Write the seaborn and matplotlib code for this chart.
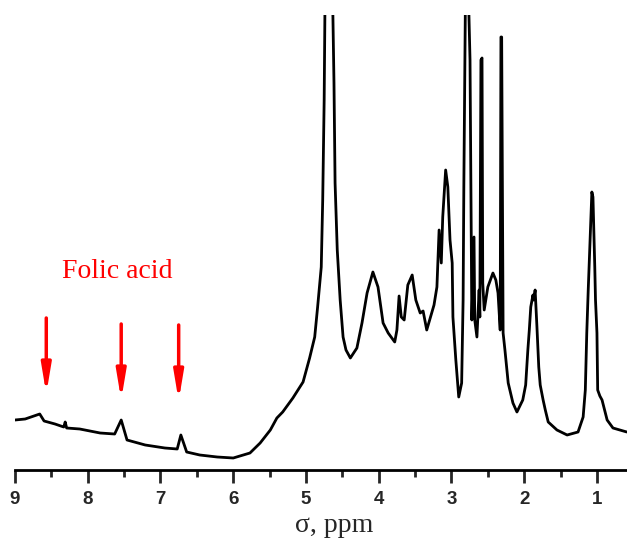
import numpy as np
import matplotlib
matplotlib.use("Agg")
import matplotlib.pyplot as plt
import seaborn as sns

# Chemical shift (ppm) and signal intensity (arb. units)
ppm = [9.00, 8.86, 8.66, 8.60, 8.45, 8.33, 8.31, 8.29, 8.11, 7.83, 7.63, 7.54, 7.46,
       7.21, 6.94, 6.77, 6.72, 6.64, 6.46, 6.22, 6.00, 5.77, 5.63, 5.49, 5.40, 5.32,
       5.18, 5.04, 4.95, 4.88, 4.84, 4.79, 4.77, 4.75, 4.74, 4.69, 4.63, 4.615, 4.60,
       4.57, 4.53, 4.49, 4.45, 4.39, 4.30, 4.23, 4.16, 4.08, 4.01, 3.94, 3.87, 3.78, 3.75,
       3.72, 3.69, 3.65, 3.60, 3.54, 3.49, 3.43, 3.39, 3.34, 3.28, 3.24, 3.20, 3.17,
       3.14, 3.12, 3.08, 3.05, 3.02, 2.99, 2.98, 2.94, 2.90, 2.86, 2.84, 2.83, 2.81,
       2.787, 2.76, 2.745, 2.73, 2.72, 2.69, 2.68, 2.65, 2.62, 2.61, 2.595, 2.58,
       2.57, 2.55, 2.50, 2.43, 2.39, 2.36, 2.33, 2.32, 2.31, 2.29, 2.265, 2.22,
       2.155, 2.10, 2.02, 1.98, 1.95, 1.93, 1.91, 1.88, 1.87, 1.85, 1.825, 1.80,
       1.78, 1.74, 1.71, 1.67, 1.55, 1.41, 1.26, 1.19, 1.16, 1.14, 1.12, 1.10, 1.07,
       1.055, 1.03, 1.02, 1.00, 0.99, 0.96, 0.93, 0.86, 0.78, 0.59]
intensity = [49, 50, 55, 48, 45, 42, 47, 41, 40, 36, 35, 49, 29,
             24, 21, 20, 34, 17, 14, 12, 11, 16, 26, 39, 51, 57,
             71, 87, 111, 132, 162, 202, 269, 369, 454, 1500, 454, 386, 286,
             219, 169, 132, 119, 111, 121, 146, 176, 197, 182, 146, 136, 127, 139,
             173, 152, 149, 184, 194, 169, 156, 158, 139, 154, 164, 182, 239,
             206, 252, 299, 282, 229, 206, 152, 109, 72, 86, 169, 282, 454,
             1000, 454, 409, 259, 149, 232, 149, 132, 179, 152, 409, 411,
             186, 159, 182, 196, 189, 176, 139, 432, 432, 136, 119, 86,
             66, 57, 69, 84, 119, 139, 162, 174, 169, 179, 142, 102,
             84, 69, 59, 47, 39, 34, 37, 52, 79, 136, 179, 219, 277,
             272, 202, 169, 136, 79, 73, 69, 49, 41, 37]

# Folic acid markers: position, arrow tail and tip heights
arrow_ppm = [8.57, 7.54, 6.75]
arrow_tail = [151, 145, 144]
arrow_tip = [75, 69, 68]

sns.set_style("white")
fig = plt.figure(figsize=(6.27, 5.42), dpi=100)
ax = fig.add_axes([15 / 627, 72 / 542, 612 / 627, 455 / 542])

sns.lineplot(x=ppm, y=intensity, ax=ax, color="black", lw=2.0,
             estimator=None, sort=True)

for xp, yt, yh in zip(arrow_ppm, arrow_tail, arrow_tip):
    ax.annotate("", xy=(xp, yh), xytext=(xp, yt),
                arrowprops=dict(arrowstyle="-|>,head_length=1.2,head_width=0.2",
                                color="red", lw=2.5, mutation_scale=14,
                                shrinkA=0, shrinkB=0))

ax.text(7.60, 198, "Folic acid", color="red", fontsize=20,
        family="Liberation Serif", ha="center", va="center")

ax.set_xlim(9.0, 0.587)
ax.set_ylim(-1, 454)
ax.set_xticks(range(9, 0, -1))
ax.set_xticks(np.arange(8.5, 0.5, -1.0), minor=True)
ax.set_yticks([])
for s in ["left", "top", "right"]:
    ax.spines[s].set_visible(False)
ax.spines["bottom"].set_linewidth(2)
ax.spines["bottom"].set_color("black")
ax.tick_params(axis="x", which="major", direction="out", length=9, width=2,
               pad=6, labelsize=13.5, bottom=True)
ax.tick_params(axis="x", which="minor", direction="out", length=5, width=2,
               bottom=True)
for lbl in ax.get_xticklabels():
    lbl.set_family("Liberation Sans")
    lbl.set_fontweight("bold")

ax.set_xlabel("σ, ppm", fontsize=20, family="Liberation Serif")
ax.xaxis.set_label_coords(319 / 612, -0.095)

fig.savefig("out.png", dpi=100)
